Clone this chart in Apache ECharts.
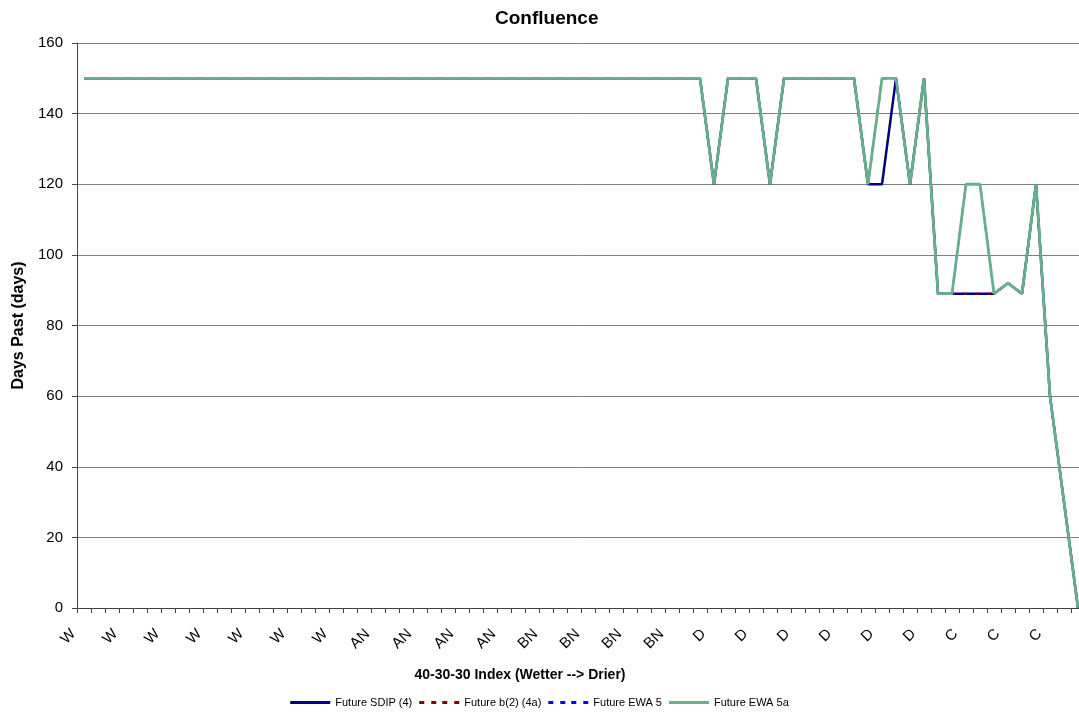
<!DOCTYPE html>
<html>
<head>
<meta charset="utf-8">
<script src="https://cdn.jsdelivr.net/npm/echarts@6/dist/echarts.min.js"></script>
<style>
html,body{margin:0;padding:0;background:#fff;}
#chart{width:1079px;height:715px;}
</style>
</head>
<body>
<div id="chart"></div>
<script>
// Category labels (every 3rd category is labelled)
const labelGroups = ['W','W','W','W','W','W','W','AN','AN','AN','AN','BN','BN','BN','BN','D','D','D','D','D','D','C','C','C'];
const categories = [];
labelGroups.forEach(function(l){ categories.push(l, '', ''); });

const sdip = [
150,150,150,150,150,150,150,150,150,150,
150,150,150,150,150,150,150,150,150,150,
150,150,150,150,150,150,150,150,150,150,
150,150,150,150,150,150,150,150,150,150,
150,150,150,150,150,120,150,150,150,120,
150,150,150,150,150,150,120,120,150,120,
150,89,89,89,89,89,92,89,120,60,
30,0];
const b2 = [
150,150,150,150,150,150,150,150,150,150,
150,150,150,150,150,150,150,150,150,150,
150,150,150,150,150,150,150,150,150,150,
150,150,150,150,150,150,150,150,150,150,
150,150,150,150,150,120,150,150,150,120,
150,150,150,150,150,150,120,150,150,120,
150,89,89,89,89,89,92,89,120,60,
30,0];
const ewa5 = [
150,150,150,150,150,150,150,150,150,150,
150,150,150,150,150,150,150,150,150,150,
150,150,150,150,150,150,150,150,150,150,
150,150,150,150,150,150,150,150,150,150,
150,150,150,150,150,120,150,150,150,120,
150,150,150,150,150,150,120,150,150,120,
150,89,89,120,120,89,92,89,120,60,
30,0];
const ewa5a = [
150,150,150,150,150,150,150,150,150,150,
150,150,150,150,150,150,150,150,150,150,
150,150,150,150,150,150,150,150,150,150,
150,150,150,150,150,150,150,150,150,150,
150,150,150,150,150,120,150,150,150,120,
150,150,150,150,150,150,120,150,150,120,
150,89,89,120,120,89,92,89,120,60,
30,0];

const seriesNames = ['Future SDIP (4)','Future b(2) (4a)','Future EWA 5','Future EWA 5a'];
const solidIcon = 'path://M0,0H40V3H0Z';
const dashIcon = 'path://M0,0H5V3H0Z M12,0H17V3H12Z M23,0H28V3H23Z M35,0H40V3H35Z';

const chart = echarts.init(document.getElementById('chart'), null, {renderer:'canvas'});
const FONT = 'Liberation Sans, Arial, sans-serif';
chart.setOption({
  animation:false,
  backgroundColor:'#ffffff',
  title:{
    text:'Confluence', left:490, top:4,
    textStyle:{fontFamily:FONT, fontSize:19, fontWeight:'bold', color:'#000'}
  },
  legend:{
    bottom:2, left:'center', itemWidth:40, itemHeight:3, itemGap:7, symbolKeepAspect:false,
    textStyle:{fontFamily:FONT, fontSize:11, color:'#000'},
    data:[
      {name:seriesNames[0], icon:solidIcon, itemStyle:{color:'#000080'}},
      {name:seriesNames[1], icon:dashIcon, itemStyle:{color:'#800000'}},
      {name:seriesNames[2], icon:dashIcon, itemStyle:{color:'#0000ff'}},
      {name:seriesNames[3], icon:solidIcon, itemStyle:{color:'#66b08c'}}
    ]
  },
  grid:{left:77, width:1008, top:43, bottom:107, containLabel:false, outerBoundsMode:'none'},
  xAxis:{
    type:'category', data:categories, boundaryGap:true,
    name:'40-30-30 Index (Wetter --> Drier)', nameLocation:'middle', nameGap:60,
    nameTextStyle:{fontFamily:FONT, fontSize:14, fontWeight:'bold', color:'#000', padding:[0,122,0,0]},
    axisLine:{lineStyle:{color:'#444', width:1}},
    axisTick:{show:true, interval:0, length:5, alignWithLabel:false, lineStyle:{color:'#444'}},
    axisLabel:{interval:2, rotate:45, margin:13, fontFamily:FONT, fontSize:15, color:'#000', padding:[0,15,0,0]},
    splitLine:{show:false}
  },
  yAxis:{
    type:'value', min:0, max:160, interval:20,
    name:'Days Past (days)', nameLocation:'middle', nameGap:49,
    nameTextStyle:{fontFamily:FONT, fontSize:16, fontWeight:'bold', color:'#000'},
    axisLine:{show:true, lineStyle:{color:'#444', width:1}},
    axisTick:{show:true, length:5, lineStyle:{color:'#444'}},
    axisLabel:{fontFamily:FONT, fontSize:15, color:'#000', margin:14},
    splitLine:{show:true, lineStyle:{color:'#808080', width:1}}
  },
  series:[
    {name:seriesNames[0], type:'line', data:sdip, symbol:'none', z:2,
     lineStyle:{color:'#000080', width:2.5}, itemStyle:{color:'#000080'}},
    {name:seriesNames[1], type:'line', data:b2, symbol:'none', z:3,
     lineStyle:{color:'#800000', width:2, type:[4,8]}, itemStyle:{color:'#800000'}},
    {name:seriesNames[2], type:'line', data:ewa5, symbol:'none', z:4,
     lineStyle:{color:'#0000ff', width:2, type:[4,8]}, itemStyle:{color:'#0000ff'}},
    {name:seriesNames[3], type:'line', data:ewa5a, symbol:'none', z:5,
     lineStyle:{color:'#66b08c', width:2.8}, itemStyle:{color:'#66b08c'}}
  ]
});
</script>
</body>
</html>
